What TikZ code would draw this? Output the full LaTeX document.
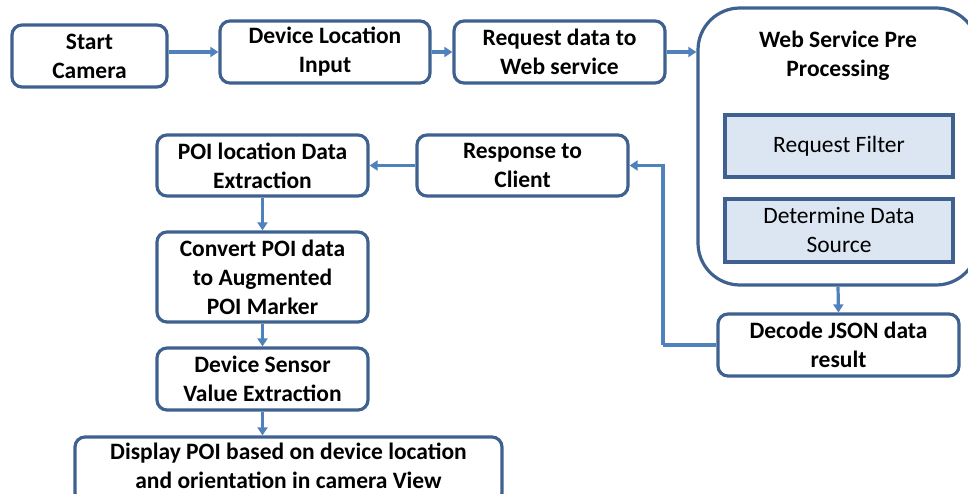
\documentclass[tikz,border=0pt]{standalone}
\usepackage{fontspec}
\setmainfont{Carlito}
\usetikzlibrary{arrows.meta}
\definecolor{boxblue}{HTML}{3F6190}
\definecolor{arrblue}{HTML}{4F81BD}
\definecolor{fillblue}{HTML}{DCE6F2}
\tikzset{
  box/.style={draw=boxblue, line width=3.2pt, rounded corners=10pt, align=center,
    font=\fontsize{23.5}{29}\selectfont\bfseries, inner sep=0pt},
  subbox/.style={draw=boxblue, line width=3.2pt, fill=fillblue, align=center,
    font=\fontsize{23.5}{29}\selectfont, inner sep=0pt},
  bigbox/.style={draw=boxblue, line width=3.2pt, rounded corners=42pt, inner sep=0pt},
  title/.style={align=center, font=\fontsize{23.5}{29}\selectfont\bfseries, inner sep=0pt},
  arr/.style={draw=arrblue, line width=3.2pt, -{Triangle[length=8pt,width=10pt]}},
  con/.style={draw=arrblue, line width=3.2pt}
}
\begin{document}
\begin{tikzpicture}[x=1pt,y=-1pt]
\useasboundingbox (0,0) rectangle (968,494);
\node[box, minimum width=155pt, minimum height=62pt] (start) at (89.5,56) {Start\\Camera};
\node[box, minimum width=210pt, minimum height=62pt] (dev) at (325,52) {Device Location\\Input};
\node[box, minimum width=211pt, minimum height=62pt] (req) at (559.5,52) {Request data to\\Web service};
\node[bigbox, minimum width=280pt, minimum height=277pt] (web) at (838,146.5) {};
\node[title] (webt) at (838,56) {Web Service Pre\\Processing};
\node[subbox, minimum width=228pt, minimum height=62pt] (filt) at (839,146) {Request Filter};
\node[subbox, minimum width=228pt, minimum height=63pt] (det) at (839,230.5) {Determine Data\\Source};
\node[box, minimum width=241pt, minimum height=62pt] (dec) at (838.5,345) {Decode JSON data\\result};
\node[box, minimum width=211pt, minimum height=61pt] (resp) at (522.5,165.5) {Response to\\Client};
\node[box, minimum width=211pt, minimum height=61pt] (poi) at (262.5,165.5) {POI location Data\\Extraction};
\node[box, minimum width=211pt, minimum height=90pt] (conv) at (262.5,277) {Convert POI data\\to Augmented\\POI Marker};
\node[box, minimum width=211pt, minimum height=62pt] (sens) at (262.5,379) {Device Sensor\\Value Extraction};
\node[box, minimum width=427pt, minimum height=66pt] (disp) at (288.5,470) {};
\node[title] (dispt) at (288.5,466) {Display POI based on device location\\and orientation in camera View};
\coordinate (bend) at (663,345);
\draw[arr] (start.east |- dev.west) -- (dev.west);
\draw[arr] (dev.east) -- (req.west);
\draw[arr] (req.east) -- (req.east -| web.west);
\draw[arr] (web.south) -- (dec.north);
\draw[con] (dec.west) -- (bend);
\draw[arr] (bend) |- (resp.east);
\draw[arr] (resp.west) -- (poi.east);
\draw[arr] (poi.south) -- (conv.north);
\draw[arr] (conv.south) -- (sens.north);
\draw[arr] (sens.south) -- (sens.south |- disp.north);
\end{tikzpicture}
\end{document}
